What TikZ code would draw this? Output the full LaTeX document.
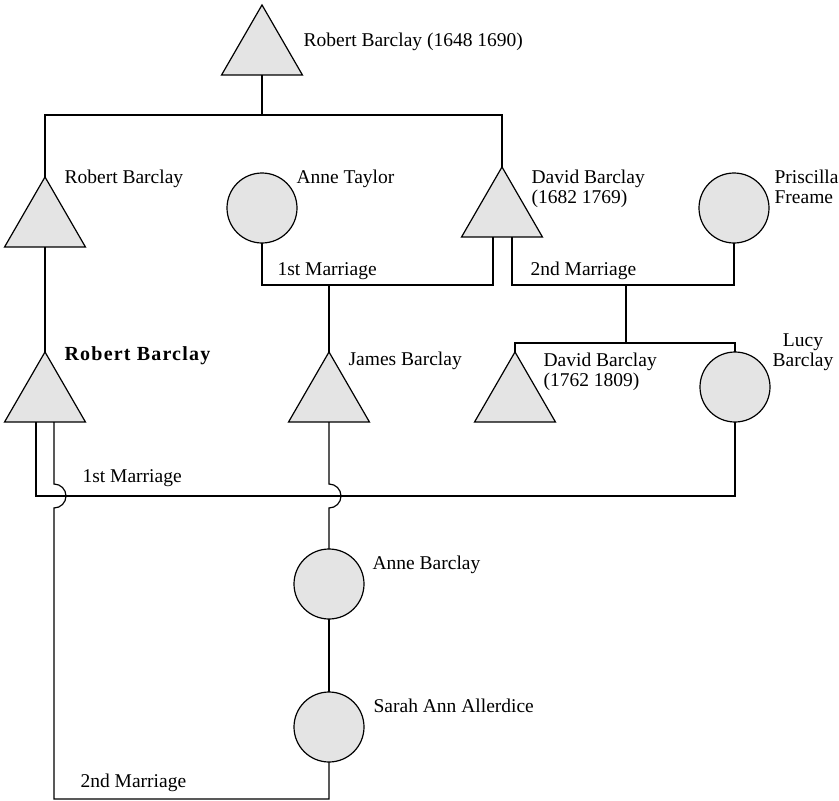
\documentclass[tikz,border=0pt]{standalone}
\usepackage{fontspec}
\setmainfont{Liberation Serif}
\usetikzlibrary{shapes.geometric,calc}
\definecolor{kinfill}{RGB}{228,228,228}
\begin{document}
\begin{tikzpicture}[x=1pt,y=-1pt,
  line width=1.2pt,
  male/.style={regular polygon, regular polygon sides=3, minimum size=93.5pt,
    inner sep=0pt, outer sep=0pt, draw, fill=kinfill},
  female/.style={circle, minimum size=70pt, inner sep=0pt, outer sep=0pt,
    draw, fill=kinfill},
  lbl/.style={anchor=base west, inner sep=0pt, font=\fontsize{19.5}{20}\selectfont},
  lblc/.style={anchor=base, inner sep=0pt, align=center, font=\fontsize{19.5}{20}\selectfont}]
\useasboundingbox (0,0) rectangle (839,801);

% people
\node[male]   (top)   at (262,51.7)  {};
\node[male]   (lrob)  at (45,223.7)  {};
\node[female] (atay)  at (262,208)   {};
\node[male]   (david) at (502,213.7) {};
\node[female] (pris)  at (734,208)   {};
\node[male]   (brob)  at (45,398.7)  {};
\node[male]   (james) at (329,398.7) {};
\node[male]   (dav2)  at (515,398.7) {};
\node[female] (lucy)  at (735,387)   {};
\node[female] (abar)  at (329,584)   {};
\node[female] (sarah) at (329,727)   {};

% names
\node[lbl] (ltop)   at (303,46)  {Robert Barclay (1648 1690)};
\node[lbl] (llrob)  at (64,183)  {Robert Barclay};
\node[lbl] (latay)  at (296,183) {Anne Taylor};
\node[lbl] (ldav1)  at (531,183) {David Barclay};
\node[lbl] (ldav2)  at (531,203) {(1682 1769)};
\node[lbl] (lpri1)  at (774,183) {Priscilla};
\node[lbl] (lpri2)  at (774,203) {Freame};
\node[lbl] (lm1)    at (277,275) {1st Marriage};
\node[lbl] (lm2)    at (530,275) {2nd Marriage};
\node[lbl,font=\fontsize{20}{20}\selectfont\bfseries\addfontfeatures{LetterSpace=6}] (lbrob) at (64,360) {Robert Barclay};
\node[lbl] (ljam)   at (348,365) {James Barclay};
\node[lbl] (ldv1)   at (543,366) {David Barclay};
\node[lbl] (ldv2)   at (543,386) {(1762 1809)};
\node[lblc] (llucy) at (803,366) {Lucy\\Barclay};
\node[lbl] (lm3)    at (82,482)  {1st Marriage};
\node[lbl] (labar)  at (372,569) {Anne Barclay};
\node[lbl] (lsar)   at (373,712) {Sarah Ann Allerdice};
\node[lbl] (lm4)    at (80,787)  {2nd Marriage};

% helper levels
\coordinate (bar0) at (0,115);
\coordinate (m1)   at (329,285);
\coordinate (m2)   at (626,285);
\coordinate (sib)  at (626,343);
\coordinate (h1)   at (0,496);
\coordinate (hop)  at (0,484);
\coordinate (bot)  at (0,799);
\coordinate (dl) at ($(david.south)+(-9,0)$);
\coordinate (dr) at ($(david.south)+(10,0)$);
\coordinate (rl) at ($(brob.south)+(-9,0)$);
\coordinate (rr) at ($(brob.south)+(9,0)$);

% descent from the founder
\draw (top.south) -- (top.south |- bar0);
\draw (lrob.corner 1) -- (lrob.corner 1 |- bar0) -- (david.corner 1 |- bar0) -- (david.corner 1);
\draw (lrob.south) -- (brob.corner 1);

% David's first and second marriages
\draw (dl) -- (dl |- m1) -- (atay.south |- m1) -- (atay.south);
\draw (m1) -- (james.corner 1);
\draw (dr) -- (dr |- m2) -- (pris.south |- m2) -- (pris.south);
\draw (m2) -- (sib);
\draw (dav2.corner 1) -- (dav2.corner 1 |- sib) -- (lucy.north |- sib) -- (lucy.north);

% Robert's first marriage
\draw (rl) -- (rl |- h1) -- (lucy.south |- h1) -- (lucy.south);

% Robert's second marriage, hopping over the first
\draw (rr) -- (rr |- hop) arc[start angle=-90, end angle=90, radius=12]
  -- (rr |- bot) -- (sarah.south |- bot) -- (sarah.south);

% James's line, hopping over the first marriage
\draw (james.south) -- (james.south |- hop) arc[start angle=-90, end angle=90, radius=12]
  -- (abar.north);
\draw (abar.south) -- (sarah.north);
\end{tikzpicture}
\end{document}
